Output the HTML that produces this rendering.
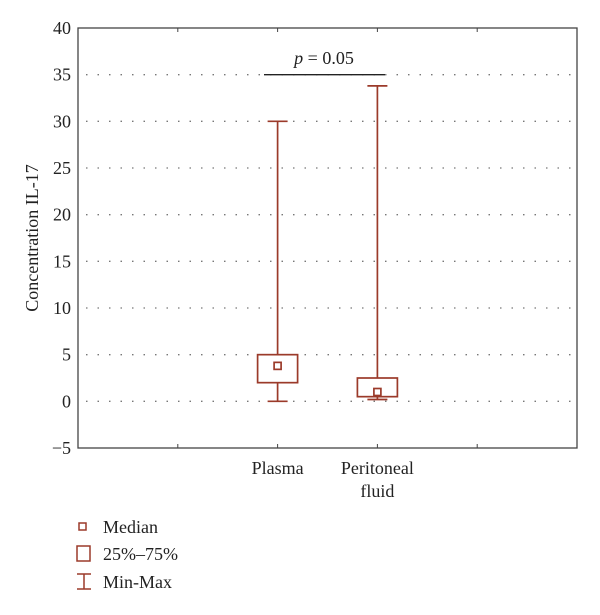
<!DOCTYPE html>
<html><head><meta charset="utf-8"><style>
body{margin:0;background:#fff;}
svg{display:block;font-family:"Liberation Serif",serif;}
</style></head><body>
<svg width="600" height="615">
<g id="grid"></g>
<g id="axes"></g>
<g id="marks"></g>
<text x="0" y="0" transform="translate(38,238) rotate(-90)" text-anchor="middle" font-size="18" fill="#222">Concentration IL-17</text>
<line x1="264" y1="0" x2="385" y2="0" id="pline" stroke="#222" stroke-width="1.3"/>
<text x="324" y="64" text-anchor="middle" font-size="18" fill="#222"><tspan font-style="italic">p</tspan> = 0.05</text>
<g>
<rect x="79" y="523" width="7" height="7" fill="none" stroke="#9b3a2a" stroke-width="1.5"/>
<text x="103" y="533" font-size="18" fill="#222">Median</text>
<rect x="77" y="546" width="13" height="15" fill="none" stroke="#9b3a2a" stroke-width="1.5"/>
<text x="103" y="560" font-size="18" fill="#222">25%–75%</text>
<path d="M77 574H91M84 574V589M77 589H91" fill="none" stroke="#9b3a2a" stroke-width="1.5"/>
<text x="103" y="588" font-size="18" fill="#222">Min-Max</text>
</g>
</svg>
<script>
const categories=["Plasma","Peritoneal fluid"];
const mins=[0,0.2];
const q1s=[2,0.5];
const medians=[3.8,1];
const q3s=[5,2.5];
const maxs=[30,33.8];
const yTicks=[-5,0,5,10,15,20,25,30,35,40];
const pValueY=35;
const NS="http://www.w3.org/2000/svg";
const L=78,R=577,T=28,B=448,ymin=-5,ymax=40;
const y=v=>B-(v-ymin)/(ymax-ymin)*(B-T);
const col="#9b3a2a";
function mk(tag,attrs,parent){const e=document.createElementNS(NS,tag);for(const k in attrs)e.setAttribute(k,attrs[k]);parent.appendChild(e);return e;}
const grid=document.getElementById('grid'),axes=document.getElementById('axes'),marks=document.getElementById('marks');
yTicks.forEach(t=>{
 if(t>ymin&&t<ymax){const g=mk('line',{x1:L+8,x2:R,y1:y(t),y2:y(t),stroke:'#777','stroke-width':1.3,'stroke-dasharray':'1.5 10'},grid);
 
 }
 const tx=mk('text',{x:L-7,y:y(t)+6,'text-anchor':'end','font-size':18,fill:'#222'},axes);
 tx.textContent=t<0?'−'+Math.abs(t):t;
 
 
});
const frame=mk('rect',{x:L,y:T,width:R-L,height:B-T,fill:'none',stroke:'#444','stroke-width':1.3},axes);


for(let k=1;k<5;k++){const xx=L+k*(R-L)/5;
 mk('line',{x1:xx,x2:xx,y1:B,y2:B-4,stroke:'#444'},axes);
 mk('line',{x1:xx,x2:xx,y1:T,y2:T+4,stroke:'#444'},axes);}
categories.forEach((c,i)=>{
 const cx=L+(i+2)*(R-L)/5;
 const words=c.split(' ');
 words.forEach((w,j)=>{const tx=mk('text',{x:cx,y:474+j*23,'text-anchor':'middle','font-size':18,fill:'#222'},axes);tx.textContent=w;
 
 });
 const g=mk('g',{fill:'none',stroke:col,'stroke-width':1.7},marks);
 
 
 mk('line',{x1:cx,x2:cx,y1:y(maxs[i]),y2:y(q3s[i])},g);
 mk('line',{x1:cx,x2:cx,y1:y(q1s[i]),y2:y(mins[i])},g);
 mk('line',{x1:cx-10,x2:cx+10,y1:y(maxs[i]),y2:y(maxs[i])},g);
 mk('line',{x1:cx-10,x2:cx+10,y1:y(mins[i]),y2:y(mins[i])},g);
 mk('rect',{x:cx-20,y:y(q3s[i]),width:40,height:y(q1s[i])-y(q3s[i])},g);
 mk('rect',{x:cx-3.5,y:y(medians[i])-3.5,width:7,height:7},g);
});
const pl=document.getElementById('pline');pl.setAttribute('y1',y(pValueY));pl.setAttribute('y2',y(pValueY));
</script>
</body></html>
